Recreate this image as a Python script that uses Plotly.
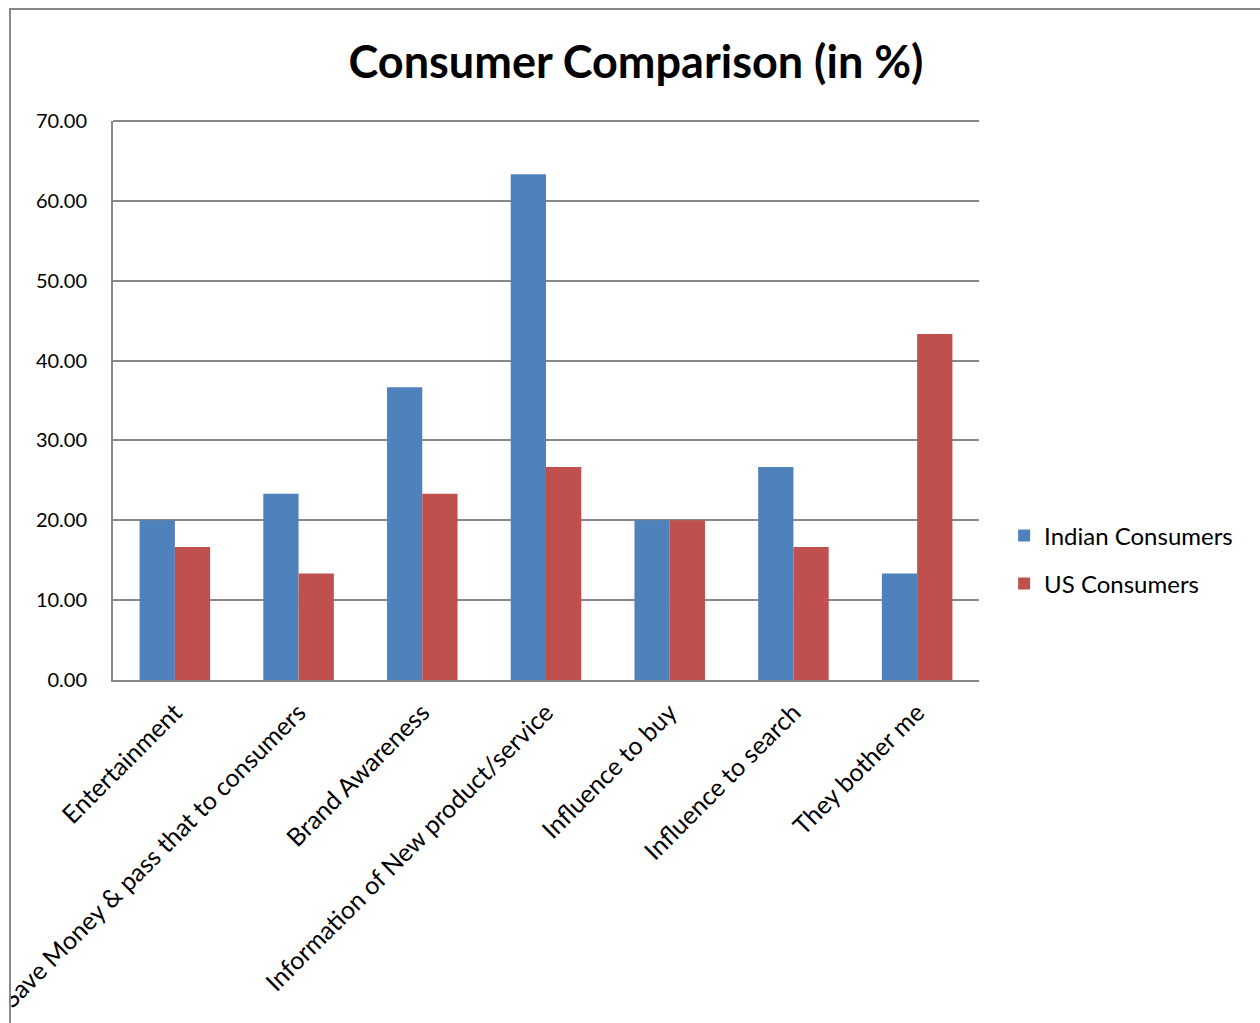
import plotly.graph_objects as go

categories = ["Entertainment", "Save Money & pass that to consumers", "Brand Awareness",
              "Information of New product/service", "Influence to buy", "Influence to search",
              "They bother me"]
indian = [20.00, 23.33, 36.67, 63.33, 20.00, 26.67, 13.33]
us = [16.67, 13.33, 23.33, 26.67, 20.00, 16.67, 43.33]
y_ticks = [0, 10, 20, 30, 40, 50, 60, 70]

FONT = "Lato"
fig = go.Figure()
fig.add_trace(go.Bar(name="Indian Consumers", x=categories, y=indian, marker_color="#4F81BD",
                     marker_line_width=0, legendgroup="a"))
fig.add_trace(go.Bar(name="US Consumers", x=categories, y=us, marker_color="#C0504D",
                     marker_line_width=0, legendgroup="b"))

fig.update_layout(
    width=1260, height=1023,
    margin=dict(l=113, r=281, t=121, b=343, autoexpand=False),
    paper_bgcolor="white", plot_bgcolor="white",
    barmode="group", bargap=0.43, bargroupgap=0,
    title=dict(text="<b>Consumer Comparison (in %)</b>", x=(636/1260), xanchor="center",
               y=1-62/1023, yanchor="middle", font=dict(family=FONT, size=45, color="black")),
    font=dict(family=FONT, color="black"),
    legend=dict(x=1.029, xanchor="left", y=0.215, yanchor="middle",
                font=dict(family=FONT, size=24, color="black"), tracegroupgap=14,
                traceorder="grouped", itemwidth=30, bgcolor="rgba(0,0,0,0)"),
    showlegend=True,
)
fig.update_yaxes(range=[0, 70], tickvals=y_ticks, tickformat=".2f",
                 showgrid=True, gridcolor="#888888",
                 gridwidth=2, showline=True, linecolor="#888888", linewidth=2, ticks="",
                 tickfont=dict(family=FONT, size=20, color="black"), zeroline=False,
                 ticklabelstandoff=20)
fig.update_xaxes(showline=True, linecolor="#888888", linewidth=2, tickangle=-45,
                 tickfont=dict(family=FONT, size=25, color="black"), ticks="",
                 ticklabelstandoff=6)

# top gridline (at axis maximum)
fig.add_shape(type="line", xref="paper", yref="paper", x0=0, x1=1, y0=1, y1=1,
              line=dict(color="#888888", width=2), layer="below")
# chart frame
fig.add_shape(type="rect", xref="paper", yref="paper",
              x0=(10-113)/866, x1=3, y0=-3, y1=(680-9)/559,
              line=dict(color="#888888", width=2), fillcolor="rgba(0,0,0,0)", layer="above")
# clip region left of frame
fig.add_shape(type="rect", xref="paper", yref="paper",
              x0=-1, x1=(9-113)/866, y0=-3, y1=3,
              line=dict(width=0), fillcolor="white", layer="above")

fig.write_html("out.html")
